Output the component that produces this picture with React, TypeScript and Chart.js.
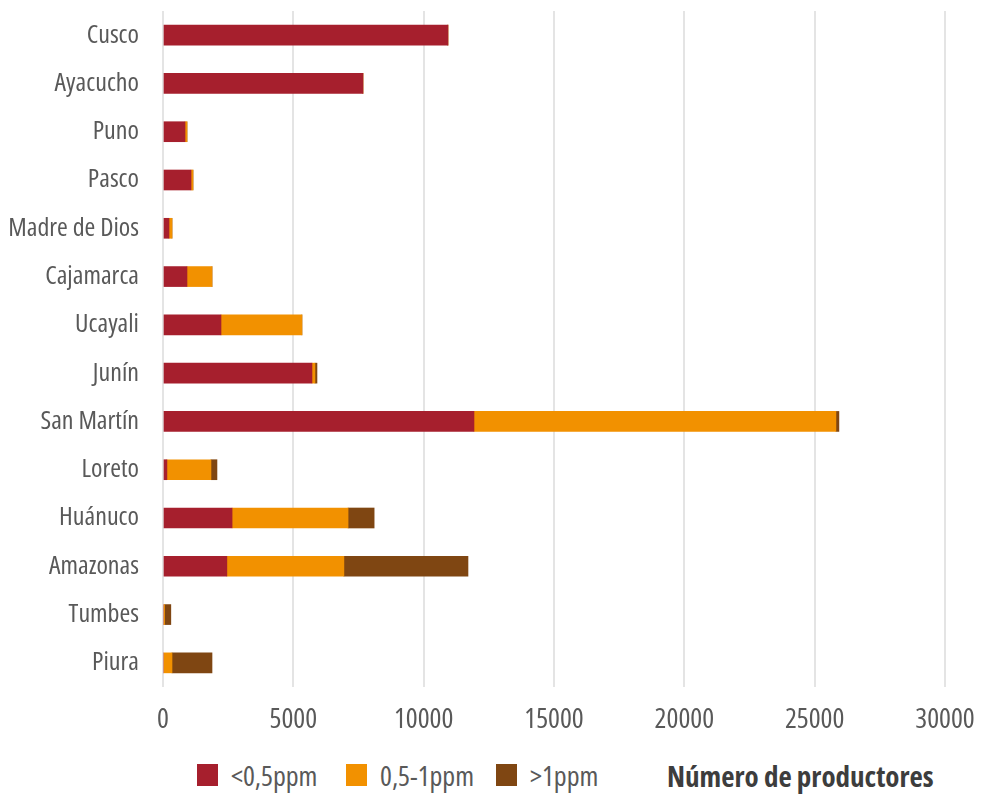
import React, { useEffect, useRef } from "react";
import { Chart, registerables } from "chart.js";

Chart.register(...registerables);

const categories = [
  "Cusco",
  "Ayacucho",
  "Puno",
  "Pasco",
  "Madre de Dios",
  "Cajamarca",
  "Ucayali",
  "Junín",
  "San Martín",
  "Loreto",
  "Huánuco",
  "Amazonas",
  "Tumbes",
  "Piura",
];

const lowValues = [10930, 7670, 845, 1075, 230, 920, 2225, 5715, 11930, 150, 2650, 2450, 0, 0];
const midValues = [0, 0, 75, 75, 115, 960, 3105, 115, 13885, 1690, 4450, 4490, 60, 345];
const highValues = [0, 0, 0, 0, 0, 0, 0, 77, 115, 230, 1000, 4760, 240, 1535];

const seriesNames = ["<0,5ppm", "0,5-1ppm", ">1ppm"];
const seriesColors = ["#A61F2D", "#F29100", "#7F4612"];

const xMin = 0;
const xMax = 30000;
const xStep = 5000;
const axisTitle = "Número de productores";

const FONT = "'Open Sans', 'Roboto', sans-serif";
const TEXT_COLOR = "#595959";

const legendLefts = [197, 346, 496];

export default function App() {
  const canvasRef = useRef<HTMLCanvasElement | null>(null);

  useEffect(() => {
    if (!canvasRef.current) return;
    const seriesData = [lowValues, midValues, highValues];
    const chart = new Chart(canvasRef.current, {
      type: "bar",
      data: {
        labels: categories,
        datasets: seriesNames.map((name, i) => ({
          label: name,
          data: seriesData[i],
          backgroundColor: seriesColors[i],
          borderWidth: 0,
          barThickness: 20,
        })),
      },
      options: {
        indexAxis: "y",
        responsive: false,
        animation: false,
        layout: { padding: { top: 11, right: 36, left: 0, bottom: 0 } },
        plugins: {
          legend: { display: false },
          tooltip: { enabled: false },
        },
        scales: {
          x: {
            stacked: true,
            min: xMin,
            max: xMax,
            ticks: {
              stepSize: xStep,
              color: TEXT_COLOR,
              font: { family: FONT, size: 28, weight: "condensed" as any },
              padding: 16,
              maxRotation: 0,
              callback: (v: any) => String(v),
            },
            grid: { color: "#e4e4e4", lineWidth: 2, drawTicks: false },
            border: { display: false },
            afterFit: (s: any) => {
              s.height = 63;
              s.paddingLeft = 0;
              s.paddingRight = 0;
            },
          },
          y: {
            stacked: true,
            grid: { display: false, drawTicks: false },
            border: { display: false },
            ticks: {
              color: TEXT_COLOR,
              font: { family: FONT, size: 26, weight: "condensed" as any },
              padding: 24,
            },
            afterFit: (s: any) => {
              s.width = 163;
              s.paddingTop = 0;
              s.paddingBottom = 0;
            },
          },
        },
      },
    });
    return () => chart.destroy();
  }, []);

  return (
    <div style={{ position: "absolute", left: 0, top: 0, width: 981, height: 797, background: "#fff" }}>
      <canvas ref={canvasRef} width={981} height={750} style={{ display: "block" }} />
      {seriesNames.map((name, i) => (
        <div
          key={name}
          style={{
            position: "absolute",
            left: legendLefts[i],
            top: 760,
            height: 30,
            display: "flex",
            alignItems: "center",
            fontFamily: FONT,
            fontStretch: "condensed",
            fontSize: 28,
            color: TEXT_COLOR,
            whiteSpace: "nowrap",
          }}
        >
          <span style={{ width: 21, height: 22, background: seriesColors[i], marginRight: 13, display: "inline-block" }} />
          <span>{name}</span>
        </div>
      ))}
      <div
        style={{
          position: "absolute",
          left: 667,
          top: 758,
          height: 34,
          display: "flex",
          alignItems: "center",
          fontFamily: FONT,
          fontStretch: "condensed",
          fontSize: 29,
          fontWeight: "bold",
          color: "#3d3d3d",
          whiteSpace: "nowrap",
        }}
      >
        {axisTitle}
      </div>
    </div>
  );
}
